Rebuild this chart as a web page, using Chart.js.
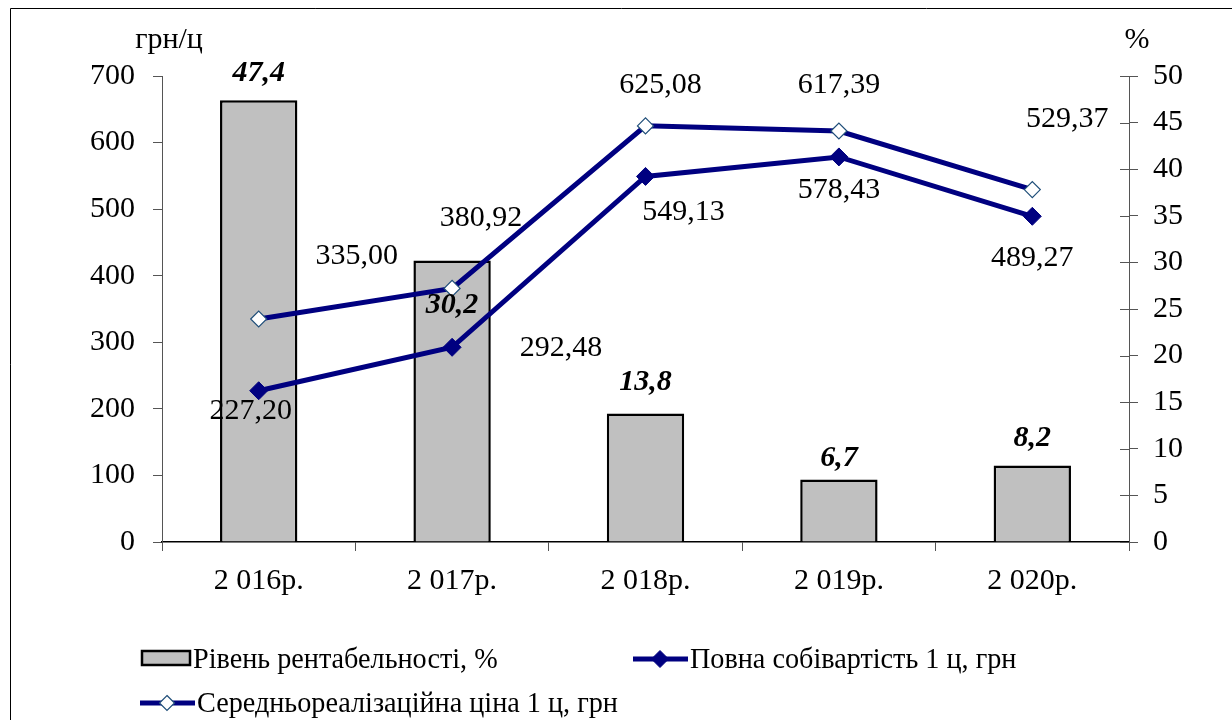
<!DOCTYPE html>
<html>
<head>
    <meta charset="UTF-8">
    <title>Рентабельність</title>
    <script src="https://cdn.jsdelivr.net/npm/chart.js"></script>
    <style>
        html, body { margin: 0; padding: 0; background: #fff; }
        #wrap { width: 1232px; height: 720px; position: relative; }
    </style>
</head>
<body>
<div id="wrap"><canvas id="chart" width="1232" height="720"></canvas></div>
<script>
// дані, зчитані з діаграми
const years = ['2 016р.', '2 017р.', '2 018р.', '2 019р.', '2 020р.'];
const profitability = [47.4, 30.2, 13.8, 6.7, 8.2];          // %
const fullCost = [227.20, 292.48, 549.13, 578.43, 489.27];    // грн
const avgPrice = [335.00, 380.92, 625.08, 617.39, 529.37];    // грн
const leftTicks = [0, 100, 200, 300, 400, 500, 600, 700];
const rightTicks = [0, 5, 10, 15, 20, 25, 30, 35, 40, 45, 50];

const FONT = 'Liberation Serif';
const FS = 30;
const NAVY = '#000080';

// зсуви підписів відносно точок (як на оригіналі)
const labelShift = [
    [[0, -27], [0, 45], [0, -31], [0, -21], [0, -27]],
    [[-8, 20], [109, 1], [38, 36], [0, 33], [0, 42]],
    [[98, -63], [29, -70], [15, -41], [0, -46], [35, -70]]
];

function fmt(v, d) { return v.toFixed(d).replace('.', ','); }

function diamond(ctx, x, y, r, fill, stroke, lw) {
    ctx.beginPath();
    ctx.moveTo(x, y - r); ctx.lineTo(x + r, y); ctx.lineTo(x, y + r); ctx.lineTo(x - r, y);
    ctx.closePath();
    ctx.fillStyle = fill; ctx.fill();
    ctx.lineWidth = lw; ctx.strokeStyle = stroke; ctx.stroke();
}

// текст легенди трохи звужений, як в оригіналі
function narrowText(ctx, txt, x, y) {
    ctx.save();
    ctx.translate(x, y);
    ctx.scale(0.94, 1);
    ctx.fillStyle = '#000';
    ctx.fillText(txt, 0, 0);
    ctx.restore();
}

const extras = {
    id: 'extras',
    afterDraw(chart) {
        const ctx = chart.ctx;
        ctx.save();
        // рамка
        ctx.strokeStyle = '#000'; ctx.lineWidth = 1;
        ctx.beginPath();
        ctx.moveTo(10.5, 720); ctx.lineTo(10.5, 8.5); ctx.lineTo(1232, 8.5);
        ctx.stroke();

        // риски правої осі навхрест
        const yr = chart.scales.yR;
        ctx.strokeStyle = '#555'; ctx.lineWidth = 1;
        rightTicks.forEach(t => {
            const py = Math.round(yr.getPixelForValue(t)) + 0.5;
            ctx.beginPath(); ctx.moveTo(yr.left - 9, py); ctx.lineTo(yr.left, py); ctx.stroke();
        });

        // підписи значень
        ctx.fillStyle = '#000';
        ctx.textAlign = 'center'; ctx.textBaseline = 'middle';
        chart.data.datasets.forEach((ds, i) => {
            const meta = chart.getDatasetMeta(i);
            ctx.font = (i === 0 ? 'italic bold ' : '') + FS + 'px ' + FONT;
            meta.data.forEach((el, j) => {
                const s = labelShift[i][j];
                ctx.fillText(fmt(ds.data[j], i === 0 ? 1 : 2), el.x + s[0], el.y + s[1]);
            });
        });

        // назви осей
        ctx.font = FS + 'px ' + FONT;
        ctx.fillText('грн/ц', 169, 40);
        ctx.fillText('%', 1137, 40);

        // легенда
        ctx.textAlign = 'left';
        ctx.fillStyle = '#c0c0c0'; ctx.fillRect(142, 651, 48, 14);
        ctx.strokeStyle = '#000'; ctx.lineWidth = 2.5; ctx.strokeRect(142, 651, 48, 14);
        narrowText(ctx, chart.data.datasets[0].label, 193, 660);

        ctx.strokeStyle = NAVY; ctx.lineWidth = 5;
        ctx.beginPath(); ctx.moveTo(633, 659); ctx.lineTo(688, 659); ctx.stroke();
        diamond(ctx, 660, 659, 8.5, NAVY, NAVY, 1);
        narrowText(ctx, chart.data.datasets[1].label, 690, 660);

        ctx.strokeStyle = NAVY; ctx.lineWidth = 5;
        ctx.beginPath(); ctx.moveTo(140, 703); ctx.lineTo(195, 703); ctx.stroke();
        diamond(ctx, 167, 703, 7.5, '#fff', '#1f4e79', 1.2);
        narrowText(ctx, chart.data.datasets[2].label, 197, 704);
        ctx.restore();
    }
};

new Chart(document.getElementById('chart'), {
    data: {
        labels: years,
        datasets: [
            {
                type: 'bar',
                label: 'Рівень рентабельності, %',
                data: profitability,
                yAxisID: 'yR',
                backgroundColor: '#c0c0c0',
                borderColor: '#000',
                borderWidth: 2.5,
                barPercentage: 0.8,
                categoryPercentage: 0.5,
                order: 2
            },
            {
                type: 'line',
                label: 'Повна собівартість 1 ц, грн',
                data: fullCost,
                yAxisID: 'yL',
                borderColor: NAVY,
                borderWidth: 5,
                pointStyle: 'rectRot',
                pointRadius: 9,
                pointBackgroundColor: NAVY,
                pointBorderColor: NAVY,
                pointBorderWidth: 1,
                tension: 0,
                order: 1
            },
            {
                type: 'line',
                label: 'Середньореалізаційна ціна 1 ц, грн',
                data: avgPrice,
                yAxisID: 'yL',
                borderColor: NAVY,
                borderWidth: 5,
                pointStyle: 'rectRot',
                pointRadius: 8,
                pointBackgroundColor: '#fff',
                pointBorderColor: '#1f4e79',
                pointBorderWidth: 1.2,
                tension: 0,
                order: 0
            }
        ]
    },
    options: {
        responsive: false,
        animation: false,
        font: { family: FONT },
        layout: { padding: { top: 76, left: 0, right: 0, bottom: 118 } },
        plugins: { legend: { display: false }, tooltip: { enabled: false } },
        scales: {
            x: {
                offset: true,
                grid: { offset: true, drawOnChartArea: false, color: '#555', tickLength: 9 },
                border: { color: '#000', width: 1.5 },
                ticks: { color: '#000', font: { family: FONT, size: FS }, padding: 12 },
                afterFit: s => { s.height = 60; }
            },
            yL: {
                position: 'left',
                min: 0, max: 700,
                afterBuildTicks: s => { s.ticks = leftTicks.map(v => ({ value: v })); },
                grid: { drawOnChartArea: false, color: '#555', tickLength: 9 },
                border: { color: '#555', width: 1 },
                ticks: { color: '#000', font: { family: FONT, size: FS }, padding: 18 },
                afterFit: s => { s.width = 162; }
            },
            yR: {
                position: 'right',
                min: 0, max: 50,
                afterBuildTicks: s => { s.ticks = rightTicks.map(v => ({ value: v })); },
                grid: { drawOnChartArea: false, color: '#555', tickLength: 9 },
                border: { color: '#555', width: 1 },
                ticks: { color: '#000', font: { family: FONT, size: FS }, padding: 15 },
                afterFit: s => { s.width = 103; }
            }
        }
    },
    plugins: [extras]
});
</script>
</body>
</html>
